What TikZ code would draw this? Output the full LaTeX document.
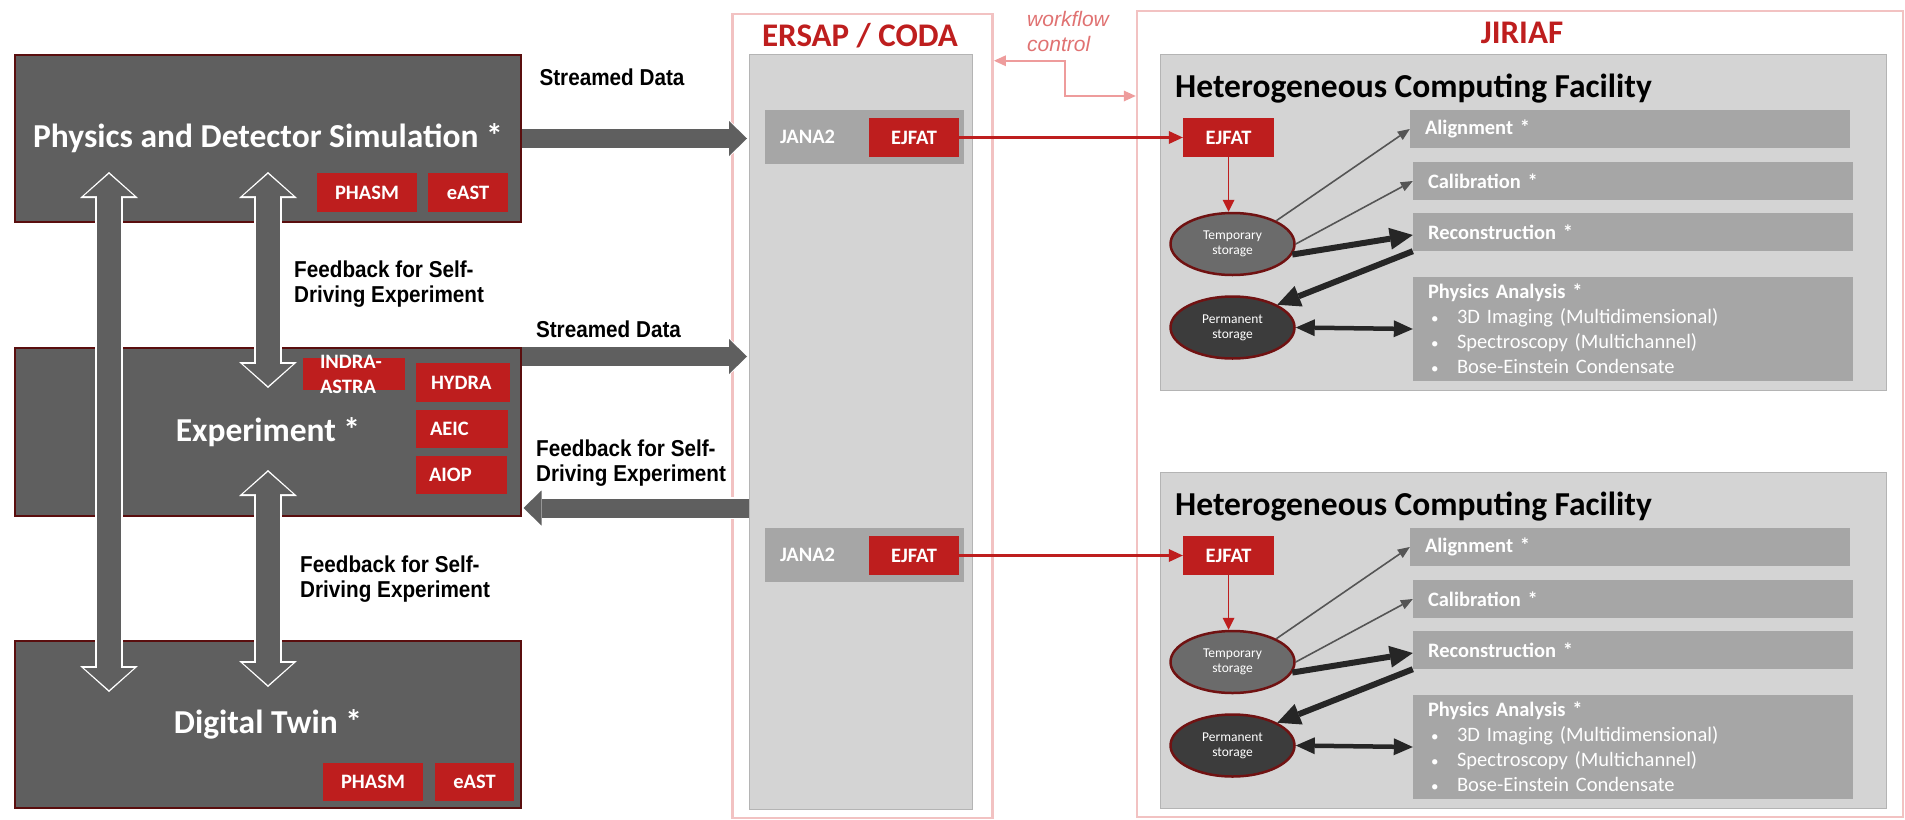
\documentclass[tikz,border=0pt]{standalone}
\usepackage{fontspec}
\setmainfont{Carlito}
\newfontfamily\narrowfont[FakeStretch=0.9]{Liberation Sans}
\newfontfamily\arialfont{Liberation Sans}
\usetikzlibrary{shapes.geometric, arrows.meta, calc}

\definecolor{darkbox}{HTML}{5F5F5F}
\definecolor{boxedge}{HTML}{5A0E0E}
\definecolor{jred}{HTML}{BE1E1E}
\definecolor{panelgrey}{HTML}{D4D4D4}
\definecolor{paneledge}{HTML}{B4B4B4}
\definecolor{midgrey}{HTML}{A6A6A6}
\definecolor{framepink}{HTML}{F2C2C2}
\definecolor{wfpink}{HTML}{EE9C9C}
\definecolor{wftext}{HTML}{E07272}
\definecolor{tmpgrey}{HTML}{6B6B6B}
\definecolor{permgrey}{HTML}{3C3C3C}
\definecolor{ellipseedge}{HTML}{701212}
\definecolor{thinarrow}{HTML}{555555}
\definecolor{thickarrow}{HTML}{262626}

\newcommand{\bul}{\mdseries\makebox[29pt][l]{\hspace{3pt}{\fontsize{15}{25}\selectfont\textbullet}}}

\tikzstyle{bigbox} = [rectangle, fill=darkbox, draw=boxedge, line width=2pt, text=white, font=\fontsize{33.5}{40}\selectfont\bfseries, minimum width=506pt, minimum height=167pt]
\tikzstyle{tag} = [rectangle, fill=jred, text=white, font=\fontsize{20.5}{25}\selectfont\bfseries, inner sep=0pt, minimum height=39pt]
\tikzstyle{tagl} = [tag, text width=64pt, align=left]
\tikzstyle{outerframe} = [rectangle, draw=framepink, line width=2.5pt]
\tikzstyle{panel} = [rectangle, fill=panelgrey, draw=paneledge, line width=1pt]
\tikzstyle{jana} = [rectangle, fill=midgrey, text=white, font=\fontsize{20.5}{25}\selectfont\bfseries, minimum width=199pt, minimum height=54pt, text width=169pt, align=left, inner sep=0pt]
\tikzstyle{task} = [rectangle, fill=midgrey, text=white, font=\fontsize{20.5}{25}\selectfont\bfseries, minimum width=440pt, minimum height=38pt, text width=410pt, align=left, inner sep=0pt]
\tikzstyle{store} = [ellipse, draw=ellipseedge, line width=2.5pt, text=white, font=\fontsize{13.5}{15}\selectfont, minimum width=124pt, minimum height=62pt, inner sep=0pt, align=center]
\tikzstyle{heading} = [font=\fontsize{33.5}{40}\selectfont\bfseries, inner sep=0pt]
\tikzstyle{redtitle} = [text=jred, font=\fontsize{33}{40}\selectfont\bfseries, inner sep=0pt]
\tikzstyle{lbl} = [font=\narrowfont\bfseries\fontsize{23}{25}\selectfont, inner sep=0pt, align=left]
\tikzstyle{wflbl} = [text=wftext, font=\arialfont\itshape\fontsize{21}{25}\selectfont, inner sep=0pt, align=left]
\tikzstyle{vfatout} = [draw=white, line width=28pt, {Triangle[width=58pt,length=26pt,line width=0pt]}-{Triangle[width=58pt,length=26pt,line width=0pt]}]
\tikzstyle{vfat} = [draw=darkbox, line width=24pt, shorten >=2pt, shorten <=2pt, {Triangle[width=50pt,length=22pt,line width=0pt]}-{Triangle[width=50pt,length=22pt,line width=0pt]}]
\tikzstyle{hfatout} = [draw=white, line width=22pt, -{Triangle[width=40pt,length=21pt,line width=0pt]}]
\tikzstyle{hfat} = [draw=darkbox, line width=19pt, shorten >=1.5pt, -{Triangle[width=35pt,length=18pt,line width=0pt]}]
\tikzstyle{redline} = [draw=jred, line width=2.5pt, -{Triangle[length=14pt,width=13pt,line width=0pt]}]
\tikzstyle{redthin} = [draw=jred, line width=1.8pt, -{Triangle[length=12pt,width=12pt,line width=0pt]}]
\tikzstyle{flowthin} = [draw=thinarrow, line width=1.6pt, -{Triangle[length=12pt,width=10pt,line width=0pt]}]
\tikzstyle{flowthick} = [draw=thickarrow, line width=6pt, -{Triangle[length=23pt,width=22pt,line width=0pt]}]
\tikzstyle{flowboth} = [draw=thickarrow, line width=4.5pt, {Triangle[length=19pt,width=17pt,line width=0pt]}-{Triangle[length=19pt,width=17pt,line width=0pt]}]
\tikzstyle{wf} = [draw=wfpink, line width=2pt, {Triangle[length=12pt,width=11pt,line width=0pt]}-{Triangle[length=12pt,width=11pt,line width=0pt]}]

\begin{document}
\begin{tikzpicture}[x=1pt,y=-1pt]
\useasboundingbox (0,0) rectangle (1905,819);

% frames and titles
\node [outerframe, minimum width=260pt, minimum height=804pt] (ersap) at (862.7,416) {};
\node [outerframe, minimum width=766pt, minimum height=806pt] (jiriaf) at (1520,414) {};
\node [redtitle] (ersaptitle) at (860,36) {ERSAP / CODA};
\node [redtitle] (jiriaftitle) at (1522,33) {JIRIAF};
\node [panel, minimum width=223pt, minimum height=755pt] (ersapin) at (860.5,431.5) {};

% workflow control
\node [wflbl, anchor=west] (wflabel) at (1027,31) {workflow\\control};
\coordinate (wfbend) at (1065,96);
\draw [wf] ($(ersap.north east)+(0,48)$) -| (wfbend) -- (wfbend -| jiriaf.west);

% computing facilities
\foreach \i/\dy in {1/0,2/418} {
  \node [jana] (jana\i) at (864.5,{137+\dy}) {JANA2};
  \node [tag, minimum width=90pt] (ejE\i) at (914,{137.5+\dy}) {EJFAT};
  \node [panel, minimum width=726pt, minimum height=336pt] (hcf\i) at (1523,{222+\dy}) {};
  \node [heading, anchor=base west] (hcftitle\i) at (1175,{97+\dy}) {Heterogeneous Computing Facility};
  \node [tag, minimum width=91pt] (ej\i) at (1228.5,{137.5+\dy}) {EJFAT};
  \node [task] (align\i) at (1630,{129+\dy}) {Alignment *};
  \node [task] (calib\i) at (1633,{181+\dy}) {Calibration *};
  \node [task] (reco\i) at (1633,{232+\dy}) {Reconstruction *};
  \node [task, minimum height=104pt] (ana\i) at (1633,{329+\dy}) {Physics Analysis *\\\bul 3D Imaging (Multidimensional)\\\bul Spectroscopy (Multichannel)\\\bul Bose-Einstein Condensate};
  \node [store, fill=tmpgrey] (tmp\i) at (1232.5,{244+\dy}) {Temporary\\storage};
  \node [store, fill=permgrey] (perm\i) at (1232.5,{327.5+\dy}) {Permanent\\storage};
  \draw [redline] (ejE\i) -- (ej\i);
  \draw [redthin] (ej\i.south) -- (ej\i.south |- tmp\i.north);
  \draw [flowthin] (tmp\i.28) -- (align\i.west);
  \draw [flowthin] (tmp\i.east) -- (calib\i.west);
  \draw [flowthick] (tmp\i.-10) -- ([yshift=-3pt]reco\i.west);
  \draw [flowthick] (reco\i.south west) -- (perm\i.27);
  \draw [flowboth] (perm\i.east) -- (ana\i.west);
}

% experiment side
\node [bigbox] (phys) at (268,138.5) {Physics and Detector Simulation *};
\node [bigbox, minimum height=168pt] (exp) at (268,432) {Experiment *};
\node [bigbox] (twin) at (268,724.5) {Digital Twin *};

\draw [vfatout] ($(phys.south west)+(95,-51)$) -- ($(twin.north west)+(95,52)$);
\draw [vfat] ($(phys.south west)+(95,-51)$) -- ($(twin.north west)+(95,52)$);
\draw [vfatout] ($(phys.south)+(0,-51)$) -- ($(exp.north)+(0,41)$);
\draw [vfat] ($(phys.south)+(0,-51)$) -- ($(exp.north)+(0,41)$);
\draw [vfatout] ($(exp.south)+(0,-47)$) -- ($(twin.north)+(0,47)$);
\draw [vfat] ($(exp.south)+(0,-47)$) -- ($(twin.north)+(0,47)$);

\draw [hfatout] (phys.east) -- (phys.east -| ersapin.west);
\draw [hfat] (phys.east) -- (phys.east -| ersapin.west);
\draw [hfatout] ($(exp.north east)+(0,9.5)$) -- ($(ersapin.west |- exp.north east)+(0,9.5)$);
\draw [hfat] ($(exp.north east)+(0,9.5)$) -- ($(ersapin.west |- exp.north east)+(0,9.5)$);
\draw [hfatout] ($(ersapin.west |- exp.south east)+(0,-9)$) -- ($(exp.south east)+(0,-9)$);
\draw [hfat] ($(ersapin.west |- exp.south east)+(0,-9)$) -- ($(exp.south east)+(0,-9)$);

\node [tag, minimum width=100pt] (phasm1) at (367,192.5) {PHASM};
\node [tag, minimum width=80pt] (east1) at (468,192.5) {eAST};
\node [tag, minimum width=102pt, minimum height=32pt] (indra) at (354,374) {};
\node [lbl, font=\fontsize{20.5}{25}\selectfont\bfseries, text=white, anchor=west] (indratxt) at ($(indra.west)+(17,0.5)$) {INDRA-\\ASTRA};
\node [tagl, minimum width=94pt] (hydra) at (463,382.5) {HYDRA};
\node [tagl, minimum width=92pt, minimum height=38pt] (aeic) at (462,429) {AEIC};
\node [tagl, minimum width=91pt, minimum height=38pt] (aiop) at (461,475) {AIOP};
\node [tag, minimum width=100pt, minimum height=38pt] (phasm2) at (373,782) {PHASM};
\node [tag, minimum width=79pt, minimum height=38pt] (east2) at (474.5,782) {eAST};

% labels
\node [lbl] (sd1) at (612,77) {Streamed Data};
\node [lbl] (sd2) at (608.5,329) {Streamed Data};
\node [lbl, anchor=west] (fb1) at (294,284.5) {Feedback for Self-\\Driving Experiment};
\node [lbl, anchor=west] (fb2) at (536,463.5) {Feedback for Self-\\Driving Experiment};
\node [lbl, anchor=west] (fb3) at (300,579.5) {Feedback for Self-\\Driving Experiment};
\end{tikzpicture}
\end{document}
